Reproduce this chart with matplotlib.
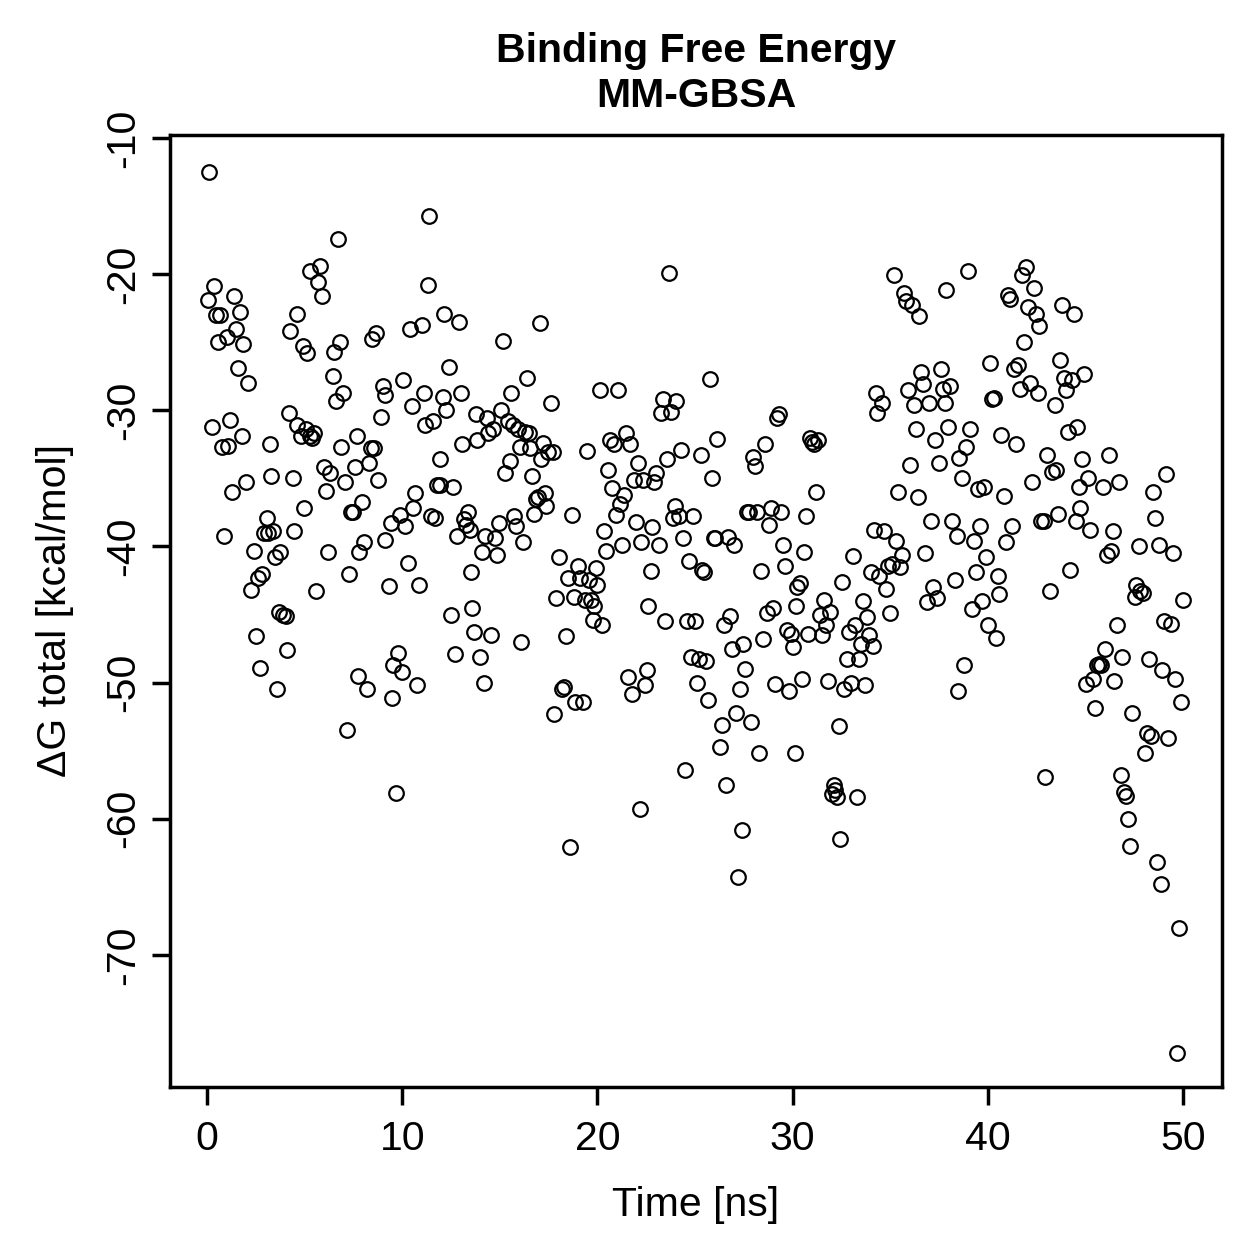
import matplotlib
matplotlib.use("Agg")
import matplotlib.pyplot as plt

plt.rcParams['font.family'] = ['Liberation Sans', 'DejaVu Sans']

# Time [ns] and ΔG total [kcal/mol]
time_ns = [
    0.1, 0.05, 0.35, 0.45, 0.65, 0.55, 0.25, 0.75, 1.05, 1.0, 1.4, 1.5, 1.7, 1.6, 1.85, 2.1, 1.2, 1.8, 1.3, 2.0,
    0.85, 2.25, 2.4, 2.5, 2.6, 2.8, 2.7, 2.9, 3.1, 3.05, 3.2, 3.3, 3.4, 3.5, 3.6, 3.75, 3.7, 3.9, 4.05, 4.1,
    4.2, 4.25, 4.4, 4.45, 4.6, 4.6, 4.8, 4.9, 4.95, 5.1, 5.05, 5.25, 5.3, 5.4, 5.5, 5.6, 5.7, 5.8, 5.9, 6.0,
    6.1, 6.2, 6.3, 6.45, 6.5, 6.6, 6.7, 6.8, 6.85, 6.95, 7.05, 7.15, 7.25, 7.4, 7.5, 7.6, 7.7, 7.75, 7.8, 7.95,
    8.05, 8.2, 8.3, 8.4, 8.55, 8.45, 8.65, 8.75, 8.9, 9.0, 9.1, 9.1, 9.3, 9.4, 9.5, 9.55, 9.7, 9.8, 9.9, 10.0,
    10.05, 10.15, 10.3, 10.4, 10.5, 10.55, 10.65, 10.75, 10.85, 11.0, 11.1, 11.15, 11.3, 11.35, 11.45, 11.6, 11.7, 11.8, 11.95, 11.95,
    12.1, 12.15, 12.25, 12.4, 12.5, 12.6, 12.7, 12.8, 12.9, 13.0, 13.05, 13.15, 13.25, 13.35, 13.45, 13.5, 13.6, 13.7, 13.8, 13.85,
    14.0, 14.1, 14.2, 14.25, 14.35, 14.4, 14.55, 14.65, 14.75, 14.85, 14.95, 15.05, 15.15, 15.25, 15.4, 15.5, 15.55, 15.7, 15.75, 15.85,
    15.95, 16.05, 16.1, 16.2, 16.3, 16.4, 16.5, 16.55, 16.65, 16.75, 16.85, 16.95, 17.05, 17.1, 17.2, 17.3, 17.35, 17.45, 17.6, 17.7,
    17.8, 17.9, 18.05, 18.2, 18.3, 18.4, 18.5, 18.6, 18.7, 18.8, 18.85, 19.0, 19.1, 19.25, 19.35, 19.45, 19.55, 19.65, 19.75, 19.85,
    19.95, 20.0, 20.15, 20.25, 20.35, 20.45, 20.55, 20.65, 20.75, 20.85, 20.95, 21.05, 21.15, 21.25, 21.35, 21.45, 21.55, 21.65, 21.75, 21.9,
    22.0, 22.1, 22.2, 22.25, 22.35, 22.45, 22.55, 22.6, 22.75, 22.8, 22.9, 23.0, 23.15, 23.25, 23.35, 23.45, 23.55, 23.65, 23.75, 23.85,
    23.95, 24.05, 24.2, 24.3, 24.4, 24.5, 24.6, 24.7, 24.8, 24.9, 25.0, 25.1, 25.2, 25.3, 25.35, 25.45, 25.55, 25.65, 25.75, 25.85,
    25.95, 26.05, 26.15, 26.3, 26.4, 26.5, 26.6, 26.7, 26.8, 26.9, 27.0, 27.1, 27.2, 27.3, 27.4, 27.45, 27.55, 27.65, 27.75, 27.85,
    27.95, 28.05, 28.2, 28.3, 28.4, 28.5, 28.6, 28.7, 28.8, 28.9, 29.0, 29.1, 29.2, 29.3, 29.4, 29.5, 29.6, 29.7, 29.8, 29.9,
    30.0, 30.1, 30.2, 30.25, 30.4, 30.5, 30.6, 30.7, 30.8, 30.9, 31.0, 31.1, 31.2, 31.3, 31.4, 31.5, 31.6, 31.7, 31.8, 31.9,
    32.0, 32.1, 32.15, 32.3, 32.4, 32.45, 32.55, 32.65, 32.8, 32.9, 33.0, 33.1, 33.2, 33.3, 33.4, 33.5, 33.6, 33.7, 33.8, 33.9,
    34.0, 34.1, 34.15, 34.25, 34.35, 34.45, 34.6, 34.7, 34.8, 34.9, 35.0, 35.1, 35.2, 35.3, 35.4, 35.5, 35.6, 35.7, 35.8, 35.9,
    36.0, 36.1, 36.2, 36.3, 36.4, 36.5, 36.6, 36.7, 36.8, 36.9, 37.0, 37.1, 37.2, 37.3, 37.4, 37.5, 37.6, 37.7, 37.8, 37.85,
    37.95, 38.05, 38.15, 38.3, 38.4, 38.5, 38.55, 38.7, 38.8, 38.9, 39.0, 39.1, 39.2, 39.3, 39.4, 39.5, 39.6, 39.7, 39.8, 39.9,
    40.0, 40.1, 40.2, 40.3, 40.4, 40.5, 40.6, 40.7, 40.85, 40.95, 41.05, 41.15, 41.25, 41.35, 41.45, 41.55, 41.65, 41.75, 41.85, 41.95,
    42.05, 42.15, 42.25, 42.35, 42.45, 42.55, 42.65, 42.75, 42.9, 42.95, 43.05, 43.2, 43.3, 43.45, 43.5, 43.6, 43.7, 43.8, 43.9, 44.0,
    44.1, 44.2, 44.3, 44.4, 44.5, 44.55, 44.65, 44.75, 44.85, 44.95, 45.05, 45.15, 45.25, 45.4, 45.5, 45.6, 45.7, 45.8, 45.9, 46.0,
    46.1, 46.2, 46.3, 46.4, 46.45, 46.6, 46.7, 46.85, 46.9, 47.0, 47.1, 47.2, 47.3, 47.4, 47.55, 47.6, 47.75, 47.8, 47.95, 48.05,
    48.15, 48.25, 48.35, 48.45, 48.55, 48.65, 48.75, 48.85, 48.95, 49.05, 49.15, 49.25, 49.4, 49.5, 49.6, 49.7, 49.8, 49.9, 50.0,
]
dg_total = [
    -12.5, -21.9, -20.9, -23.0, -23.0, -25.0, -31.2, -32.7, -32.6, -24.6, -21.6, -24.0, -22.8, -26.9, -25.1, -28.0, -30.7, -31.9, -36.0, -35.3,
    -39.2, -43.2, -40.3, -46.6, -42.3, -42.0, -48.9, -39.0, -39.0, -37.9, -32.5, -34.8, -38.9, -40.8, -50.5, -40.4, -44.8, -45.0, -45.1, -47.6,
    -30.2, -24.2, -35.0, -38.9, -22.9, -31.1, -31.9, -25.3, -37.2, -25.8, -31.4, -31.9, -19.8, -32.0, -31.7, -43.3, -20.6, -19.4, -21.6, -34.2,
    -35.9, -40.4, -34.6, -27.5, -25.7, -29.3, -17.4, -25.0, -32.7, -28.7, -35.3, -53.5, -42.0, -37.5, -37.5, -34.2, -31.9, -49.5, -40.4, -36.7,
    -39.7, -50.5, -33.9, -32.8, -32.8, -24.8, -24.3, -35.1, -30.5, -28.2, -28.9, -39.5, -42.9, -38.3, -51.1, -48.7, -58.1, -47.8, -37.7, -49.2,
    -27.8, -38.5, -41.2, -24.0, -29.7, -37.2, -36.1, -50.2, -42.8, -23.7, -28.7, -31.1, -20.8, -15.7, -37.8, -30.8, -37.9, -35.5, -35.5, -33.6,
    -29.0, -22.9, -30.0, -26.8, -45.0, -35.6, -47.9, -39.2, -23.5, -28.7, -32.5, -38.0, -38.4, -37.5, -38.8, -41.9, -44.5, -46.3, -30.3, -32.2,
    -48.1, -40.4, -50.0, -39.2, -30.6, -31.7, -46.5, -31.4, -39.4, -40.6, -38.3, -30.0, -24.9, -34.6, -30.8, -33.7, -28.7, -31.1, -37.8, -38.5,
    -31.4, -32.7, -47.0, -39.7, -31.6, -27.6, -31.7, -32.8, -34.8, -37.6, -36.5, -36.4, -23.6, -33.6, -32.4, -36.1, -37.0, -33.1, -29.5, -33.1,
    -52.3, -43.8, -40.8, -50.5, -50.3, -46.6, -42.3, -62.1, -37.7, -43.7, -51.4, -41.4, -42.3, -51.4, -43.9, -33.0, -42.5, -43.9, -45.4, -44.4,
    -41.6, -42.8, -28.5, -45.8, -38.9, -40.3, -34.4, -32.2, -35.7, -32.5, -37.7, -28.5, -36.9, -39.9, -36.2, -31.7, -49.6, -32.5, -50.8, -35.1,
    -38.2, -33.9, -59.3, -39.7, -35.1, -50.2, -49.1, -44.4, -41.8, -38.6, -35.3, -34.6, -39.9, -30.2, -29.2, -45.5, -33.6, -19.9, -30.1, -37.9,
    -37.0, -29.3, -37.8, -32.9, -39.4, -56.4, -45.5, -41.1, -48.1, -37.8, -45.5, -50.0, -48.3, -33.3, -41.7, -41.9, -48.4, -51.3, -27.7, -35.0,
    -39.4, -39.4, -32.1, -54.7, -53.1, -45.8, -57.5, -39.3, -45.1, -47.5, -39.9, -52.2, -64.3, -50.5, -60.8, -47.2, -49.0, -37.5, -37.5, -52.9,
    -33.4, -34.1, -37.5, -55.2, -41.8, -46.8, -32.5, -44.9, -38.4, -37.2, -44.5, -50.1, -30.6, -30.3, -37.5, -39.9, -41.4, -46.1, -50.6, -46.4,
    -47.4, -55.2, -44.4, -43.0, -42.7, -49.7, -40.4, -37.8, -46.4, -32.0, -32.3, -32.5, -36.0, -32.2, -45.0, -46.5, -43.9, -45.8, -49.9, -44.8,
    -58.2, -57.5, -57.9, -58.4, -53.2, -61.5, -42.6, -50.5, -48.3, -46.3, -50.0, -40.7, -45.8, -58.4, -48.3, -47.2, -44.0, -50.2, -45.2, -46.5,
    -41.9, -47.3, -38.8, -28.7, -30.2, -42.2, -29.5, -38.9, -43.1, -41.4, -44.9, -41.3, -20.1, -39.6, -36.0, -41.5, -40.6, -21.4, -22.0, -28.5,
    -34.0, -22.3, -29.6, -31.4, -36.4, -23.1, -27.2, -28.1, -40.5, -44.1, -29.5, -38.1, -43.0, -32.2, -43.8, -33.9, -27.0, -28.4, -29.5, -21.2,
    -31.2, -28.2, -38.1, -42.5, -39.2, -50.6, -33.5, -35.0, -48.7, -32.7, -19.8, -31.4, -44.6, -39.6, -41.9, -35.8, -38.5, -44.0, -35.6, -40.8,
    -45.8, -26.5, -29.2, -29.1, -46.7, -42.2, -43.5, -31.8, -36.3, -39.7, -21.5, -21.8, -38.5, -27.0, -32.5, -26.7, -28.4, -20.1, -25.0, -19.5,
    -22.4, -28.0, -35.3, -21.0, -22.9, -28.7, -23.8, -38.1, -38.1, -56.9, -33.3, -43.3, -34.5, -29.6, -34.4, -37.6, -26.3, -22.3, -27.6, -28.5,
    -31.6, -41.7, -27.8, -22.9, -38.1, -31.2, -35.6, -37.2, -33.6, -27.3, -50.1, -35.0, -38.8, -49.7, -51.9, -48.7, -48.6, -48.7, -35.6, -47.5,
    -40.6, -33.3, -40.3, -38.9, -49.9, -45.8, -35.3, -56.8, -48.1, -58.0, -58.3, -60.0, -62.0, -52.2, -43.7, -42.8, -40.0, -43.3, -43.4, -55.2,
    -53.7, -48.3, -53.9, -36.0, -37.9, -63.2, -39.9, -64.8, -49.1, -45.5, -34.7, -54.1, -45.7, -40.5, -49.7, -77.2, -68.0, -51.4, -43.9,
]

x_ticks = [0, 10, 20, 30, 40, 50]
y_ticks = [-10, -20, -30, -40, -50, -60, -70]

fig = plt.figure(figsize=(12.59, 12.59), dpi=100)
ax = fig.add_axes([0.135, 0.1366, 0.8356, 0.7562])

ax.plot(time_ns, dg_total, linestyle='none', marker='o', markersize=10.5,
        markerfacecolor='none', markeredgecolor='black', markeredgewidth=1.6)

ax.set_xlim(-1.9, 52.0)
ax.set_ylim(-79.7, -9.78)
ax.set_xticks(x_ticks)
ax.set_yticks(y_ticks)
ax.set_xticklabels([str(v) for v in x_ticks])
ax.set_yticklabels([str(v) for v in y_ticks], rotation=90, va='center')

for s in ax.spines.values():
    s.set_linewidth(2.5)
ax.tick_params(axis='both', direction='out', length=13, width=2.5, labelsize=29.5)
ax.tick_params(axis='x', pad=11)
ax.tick_params(axis='y', pad=7)

ax.set_xlabel('Time [ns]', fontsize=29.5, labelpad=20)
ax.set_ylabel('ΔG total [kcal/mol]', fontsize=29.5, labelpad=22)
ax.set_title('Binding Free Energy\nMM-GBSA', fontsize=29.5, fontweight='bold',
             pad=20, linespacing=1.25)

fig.savefig('out.png', dpi=100)
